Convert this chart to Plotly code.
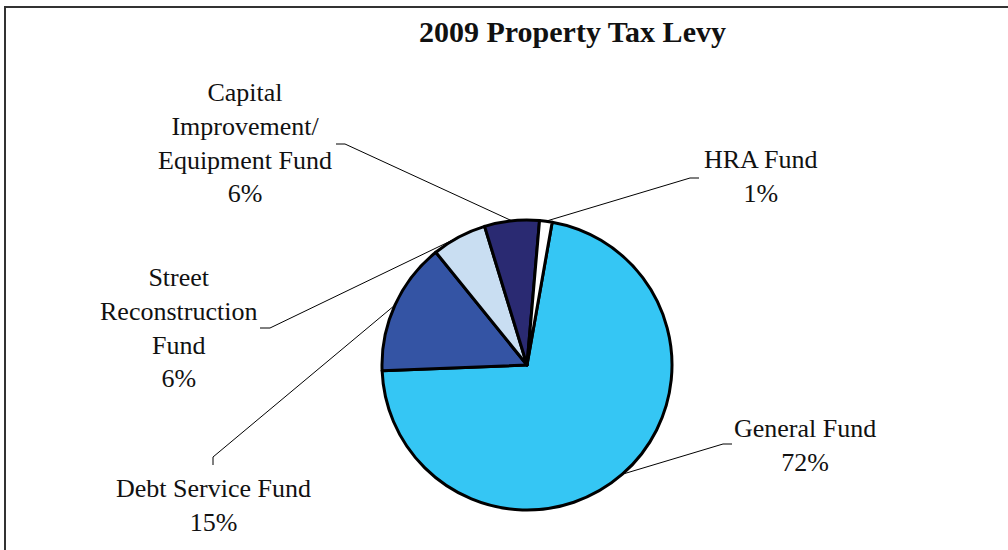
import math
import plotly.graph_objects as go

# ---- data ----
categories = ["General Fund", "Debt Service Fund", "Street<br>Reconstruction<br>Fund",
              "Capital<br>Improvement/<br>Equipment Fund", "HRA Fund"]
values = [71.6, 14.8, 6.1, 6.1, 1.4]
colors = ["#35C6F4", "#3454A4", "#C9DEF2", "#2A2A72", "#FFFFFF"]
title_text = "<b>2009 Property Tax Levy</b>"

W, H = 1008, 550
CX, CY, R = 527, 365, 145
ROTATION = 10  # degrees clockwise from 12 o'clock where the first slice starts

# label block centres (px) and leader elbows (px) -- layout only
label_pos = [(805, 445), (213, 505), (178, 328), (245, 143), (760, 177)]
elbows = [((723, 444), (732, 444)),
          ((213, 457), (213, 465)),
          ((270, 328), (260, 328)),
          ((345, 144), (336, 144)),
          ((690, 178), (699, 178))]


def px(x):
    return x / W


def py(y):
    return 1 - y / H


fig = go.Figure()
fig.add_trace(go.Pie(
    labels=[c.replace("<br>", " ") for c in categories],
    values=values,
    sort=False,
    direction="clockwise",
    rotation=ROTATION,
    textinfo="none",
    hoverinfo="label+percent",
    marker=dict(colors=colors, line=dict(color="black", width=3)),
    domain=dict(x=[px(CX - R), px(CX + R)], y=[py(CY + R), py(CY - R)]),
    showlegend=False,
))

total = sum(values)
shapes = []
annotations = []
start = ROTATION
for i, v in enumerate(values):
    span = 360 * v / total
    mid = math.radians(start + span / 2)
    start += span
    ex = CX + R * math.sin(mid)
    ey = CY - R * math.cos(mid)
    (bx, by), (tx, ty) = elbows[i]
    path = f"M {px(ex)} {py(ey)} L {px(bx)} {py(by)} L {px(tx)} {py(ty)}"
    shapes.append(dict(type="path", xref="paper", yref="paper", path=path,
                       line=dict(color="black", width=1)))
    lx, ly = label_pos[i]
    pct = round(v / total * 100)
    annotations.append(dict(
        x=px(lx), y=py(ly), xref="paper", yref="paper",
        text=f"{categories[i]}<br>{pct}%", showarrow=False,
        xanchor="center", yanchor="middle", align="center",
        font=dict(family="Liberation Serif", size=26, color="#111111"),
    ))

annotations.append(dict(
    x=px(572), y=py(31), xref="paper", yref="paper", text=title_text,
    showarrow=False, xanchor="center", yanchor="middle",
    font=dict(family="Liberation Serif", size=30, color="#111111"),
))

# outer chart frame
shapes.append(dict(type="rect", xref="paper", yref="paper",
                   x0=px(5), y0=-0.05, x1=1.05, y1=py(7),
                   line=dict(color="#333333", width=2)))

fig.update_layout(
    width=W, height=H,
    margin=dict(l=0, r=0, t=0, b=0),
    paper_bgcolor="white", plot_bgcolor="white",
    shapes=shapes, annotations=annotations,
)

fig.write_html("out.html", config={"displayModeBar": False},
               post_script="document.body.style.margin='0';")
